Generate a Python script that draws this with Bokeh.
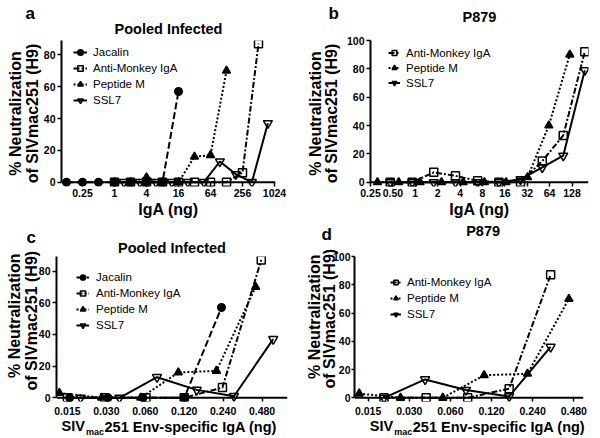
from bokeh.plotting import figure
from bokeh.models import (ColumnDataSource, Legend, LegendItem, FixedTicker,
                          Range1d, Title, Span)
from bokeh.layouts import column, row
from bokeh.embed import file_html
from bokeh.resources import INLINE

FONT = "Liberation Sans"

# ---------------- data ----------------
# Panel a: Pooled Infected, x = IgA (ng)
a_jac_x = [0.125, 0.25, 0.5, 1, 2, 4, 8, 16]
a_jac_y = [0, 0, 0, 0, 0, 0, 0, 57]
a_anti_x = [1, 2, 4, 8, 16, 32, 64, 128, 256, 512]
a_anti_y = [0, 0, 0, 0, 0, 0, 0, 0, 6, 87]
a_pep_x = [1, 2, 4, 8, 16, 32, 64, 128]
a_pep_y = [0, 0, 3, 0, 0, 16, 17, 70]
a_ssl_x = [1.5, 3, 6, 12, 24, 48, 96, 192, 384, 768]
a_ssl_y = [0, 0, 0, 0, 0, 0, 13, 5, 0, 37]

# Panel b: P879, x = IgA (ng)
b_anti_x = [0.46, 0.91, 1.77, 3.47, 6.9, 13.3, 26, 51, 97.5, 190]
b_anti_y = [0, 0, 7, 4.5, 1, 0, 0, 15, 33, 92]
b_pep_x = [0.31, 0.6, 1.16, 2.25, 4.4, 8.5, 16.6, 32.3, 62.4, 119.5]
b_pep_y = [0, 0, 0, 0, 0, 0, 0, 3.5, 40, 90]
b_ssl_x = [0.46, 0.91, 1.77, 3.47, 6.9, 13.3, 26, 51, 97.5, 190]
b_ssl_y = [0, 0, 0, 0, 0, 0, 2, 10.5, 18.7, 79]

# Panel c: Pooled Infected, x = SIVmac251 Env-specific IgA (ng)
c_jac_x = [0.0156, 0.0309, 0.0574, 0.120, 0.233]
c_jac_y = [0, 0, 0, 0, 57]
c_anti_x = [0.015, 0.0291, 0.0608, 0.120, 0.237, 0.473]
c_anti_y = [0, 0, 0, 0, 6.5, 87]
c_pep_x = [0.013, 0.0276, 0.0554, 0.108, 0.213, 0.428]
c_pep_y = [3, 0, 0, 16, 17, 70]
c_ssl_x = [0.019, 0.0379, 0.0739, 0.150, 0.291, 0.585]
c_ssl_y = [0, 0, 13, 5, 1, 37]

# Panel d: P879, x = SIVmac251 Env-specific IgA (ng)
d_anti_x = [0.0196, 0.0399, 0.0803, 0.1616, 0.325]
d_anti_y = [0, 0, 0, 6.5, 87]
d_pep_x = [0.0129, 0.0259, 0.0528, 0.106, 0.220, 0.442]
d_pep_y = [3, 0, 0, 16, 17, 70]
d_ssl_x = [0.0196, 0.0392, 0.078, 0.1616, 0.325]
d_ssl_y = [0, 13, 5.5, 1, 36]

# tick values / labels
ticks_a = [0.25, 1, 4, 16, 64, 256, 1024]
labels_a = ["0.25", "1", "4", "16", "64", "256", "1024"]
ticks_b = [0.25, 0.5, 1, 2, 4, 8, 16, 32, 64, 128]
labels_b = ["0.25", "0.50", "1", "2", "4", "8", "16", "32", "64", "128"]
ticks_cd = [0.015, 0.03, 0.06, 0.12, 0.24, 0.48]
labels_cd = ["0.015", "0.030", "0.060", "0.120", "0.240", "0.480"]
yticks_80 = [0, 20, 40, 60, 80]
yticks_100 = [0, 20, 40, 60, 80, 100]

STYLE = {
    "Jacalin": dict(dash="7 3", marker="circle", size=7.5, fill="black"),
    "Anti-Monkey IgA": dict(dash="6 2 2 2", marker="square", size=8, fill=None),
    "Peptide M": dict(dash="2 2", marker="triangle", size=8, fill="black"),
    "SSL7": dict(dash="solid", marker="inverted_triangle", size=9, fill=None),
}


def add_title(p, side, text, fs, h, align="center", offset=0, valign="bottom"):
    # h = wanted height of the title's row in its side panel
    th = 1.117 * fs
    s = h - 2 - th
    p.add_layout(Title(text=text, align=align, offset=offset, standoff=s,
                       vertical_align=valign, text_font=FONT,
                       text_font_size=f"{fs}px", text_font_style="bold",
                       text_color="black"), side)


def spacer(p, side, px):
    # an empty row of the side panel, px high
    th = 1.117 * 10
    p.add_layout(Title(text=" ", standoff=px - 2 - th, text_font=FONT,
                       text_font_size="10px"), side)


def panel(series, ticks, tlabels, yticks, ytop, xr, yr, bl, br, bt, bb,
          xstand, ytick_out, ystand, legpos, pitch, gw, stand):
    p = figure(width=300, height=219, x_axis_type="log",
               x_range=Range1d(*xr), y_range=Range1d(*yr),
               output_backend="svg", toolbar_location=None,
               min_border_left=bl, min_border_right=br,
               min_border_top=bt, min_border_bottom=bb)
    p.title.visible = False
    p.outline_line_color = None
    p.xgrid.visible = False
    p.ygrid.visible = False
    for ax in (p.xaxis, p.yaxis):
        ax.axis_line_width = 2
        ax.axis_line_color = "black"
        ax.major_tick_line_width = 1.5
        ax.major_tick_line_color = "black"
        ax.minor_tick_line_color = None
        ax.major_label_text_font = FONT
        ax.major_label_text_font_style = "bold"
        ax.major_label_text_font_size = "10.5px"
        ax.major_label_text_color = "black"
    # x axis: line drawn at y = 0, ticks hang below it
    p.xaxis.ticker = FixedTicker(ticks=ticks)
    p.xaxis.major_label_overrides = dict(zip(ticks, tlabels))
    p.xaxis.axis_line_color = None
    p.xaxis.major_tick_in = 4
    p.xaxis.major_tick_out = 0
    p.xaxis.major_label_standoff = xstand
    p.add_layout(Span(location=0, dimension="width", line_color="black",
                      line_width=2))
    p.yaxis.ticker = FixedTicker(ticks=yticks)
    p.yaxis.bounds = (0, ytop)
    p.yaxis.major_tick_in = 0
    p.yaxis.major_tick_out = ytick_out
    p.yaxis.major_label_standoff = ystand

    items = []
    for name, xs, ys in series:
        st = STYLE[name]
        src = ColumnDataSource(dict(x=xs, y=ys))
        lr = p.line("x", "y", source=src, line_color="black", line_width=2,
                    line_dash=st["dash"])
        sr = p.scatter("x", "y", source=src, marker=st["marker"], size=st["size"],
                       fill_color=st["fill"], line_color="black", line_width=1.5)
        items.append(LegendItem(label=name, renderers=[lr, sr]))
    leg = Legend(items=items, location=legpos, padding=0, margin=0, spacing=0,
                 glyph_width=gw, glyph_height=pitch, label_height=pitch,
                 label_standoff=stand, label_text_font=FONT,
                 label_text_font_size="11.5px", label_text_color="black",
                 border_line_color=None, background_fill_alpha=0)
    p.add_layout(leg)
    return p


def sub_xlabel(p, x0):
    add_title(p, "below", "SIV", 14.5, 2.5, align="left", offset=x0)
    add_title(p, "below", "251 Env-specific IgA (ng)", 14.5, 2.5, align="left",
              offset=x0 + 43, valign="top")
    add_title(p, "below", "mac", 9, 4.6, align="left", offset=x0 + 24.5)


# ---------- panel a ----------
pa = panel([("Jacalin", a_jac_x, a_jac_y), ("Anti-Monkey IgA", a_anti_x, a_anti_y),
            ("Peptide M", a_pep_x, a_pep_y), ("SSL7", a_ssl_x, a_ssl_y)],
           ticks_a, labels_a, yticks_80, 89, (0.1006, 1069), (-2.7, 89),
           61, 25, 40, 33, 2, 4, 2, (12, 78), 16, 14, 6)
add_title(pa, "above", "Pooled Infected", 14.5, 26)
add_title(pa, "above", "a", 17, 4, align="left", offset=-36)
add_title(pa, "left", "of SIVmac251 (H9)", 16, 18.6)
add_title(pa, "left", "% Neutralization", 16, 17.4)
add_title(pa, "below", "IgA (ng)", 16, 18.6)

# ---------- panel b ----------
pb = panel([("Anti-Monkey IgA", b_anti_x, b_anti_y), ("Peptide M", b_pep_x, b_pep_y),
            ("SSL7", b_ssl_x, b_ssl_y)],
           ticks_b, labels_b, yticks_100, 100, (0.2499, 213.2), (-3, 100),
           70, 12, 39, 33, 2, 4, 2, (18, 96), 15, 12, 6)
spacer(pb, "above", 23)
add_title(pb, "above", "P879", 14.5, 2.5)
add_title(pb, "above", "b", 17, 5, align="left", offset=-42)
add_title(pb, "left", "of SIVmac251 (H9)", 16, 27)
add_title(pb, "left", "% Neutralization", 16, 7)
add_title(pb, "below", "IgA (ng)", 16, 18.6)

# ---------- panel c ----------
pc = panel([("Jacalin", c_jac_x, c_jac_y), ("Anti-Monkey IgA", c_anti_x, c_anti_y),
            ("Peptide M", c_pep_x, c_pep_y), ("SSL7", c_ssl_x, c_ssl_y)],
           ticks_cd, labels_cd, yticks_80, 89.2, (0.01235, 0.7546), (-2.34, 89.2),
           55, 13, 37, 37, 5, 4, 2, (20, 68), 16, 13, 7)
add_title(pc, "above", "Pooled Infected", 14.5, 19.4)
add_title(pc, "above", "c", 17, 2.5, align="left", offset=-30)
add_title(pc, "left", "of SIVmac251 (H9)", 16, 10, align="left", offset=11)
add_title(pc, "left", "% Neutralization", 16, 26.6, align="left", offset=23.5)
spacer(pc, "below", 7)
sub_xlabel(pc, 5)

# ---------- panel d ----------
pd_ = panel([("Anti-Monkey IgA", d_anti_x, d_anti_y), ("Peptide M", d_pep_x, d_pep_y),
             ("SSL7", d_ssl_x, d_ssl_y)],
            ticks_cd, labels_cd, yticks_100, 100, (0.01192, 0.5655), (-2.6, 100),
            53, 17, 36, 37, 5, 3, 1, (36, 79), 16, 11, 6)
spacer(pd_, "above", 22)
add_title(pd_, "above", "d", 17, 2.5, align="left", offset=-33)
add_title(pd_, "above", "P879", 14.5, 2.5, align="left", offset=111.7)
add_title(pd_, "left", "of SIVmac251 (H9)", 16, 2.5, align="left", offset=13)
add_title(pd_, "left", "% Neutralization", 16, 28, align="left", offset=22.5)
spacer(pd_, "below", 7)
sub_xlabel(pd_, 15.3)

layout = column(row(pa, pb), row(pc, pd_))

open("out.html", "w").write(file_html(layout, INLINE))
